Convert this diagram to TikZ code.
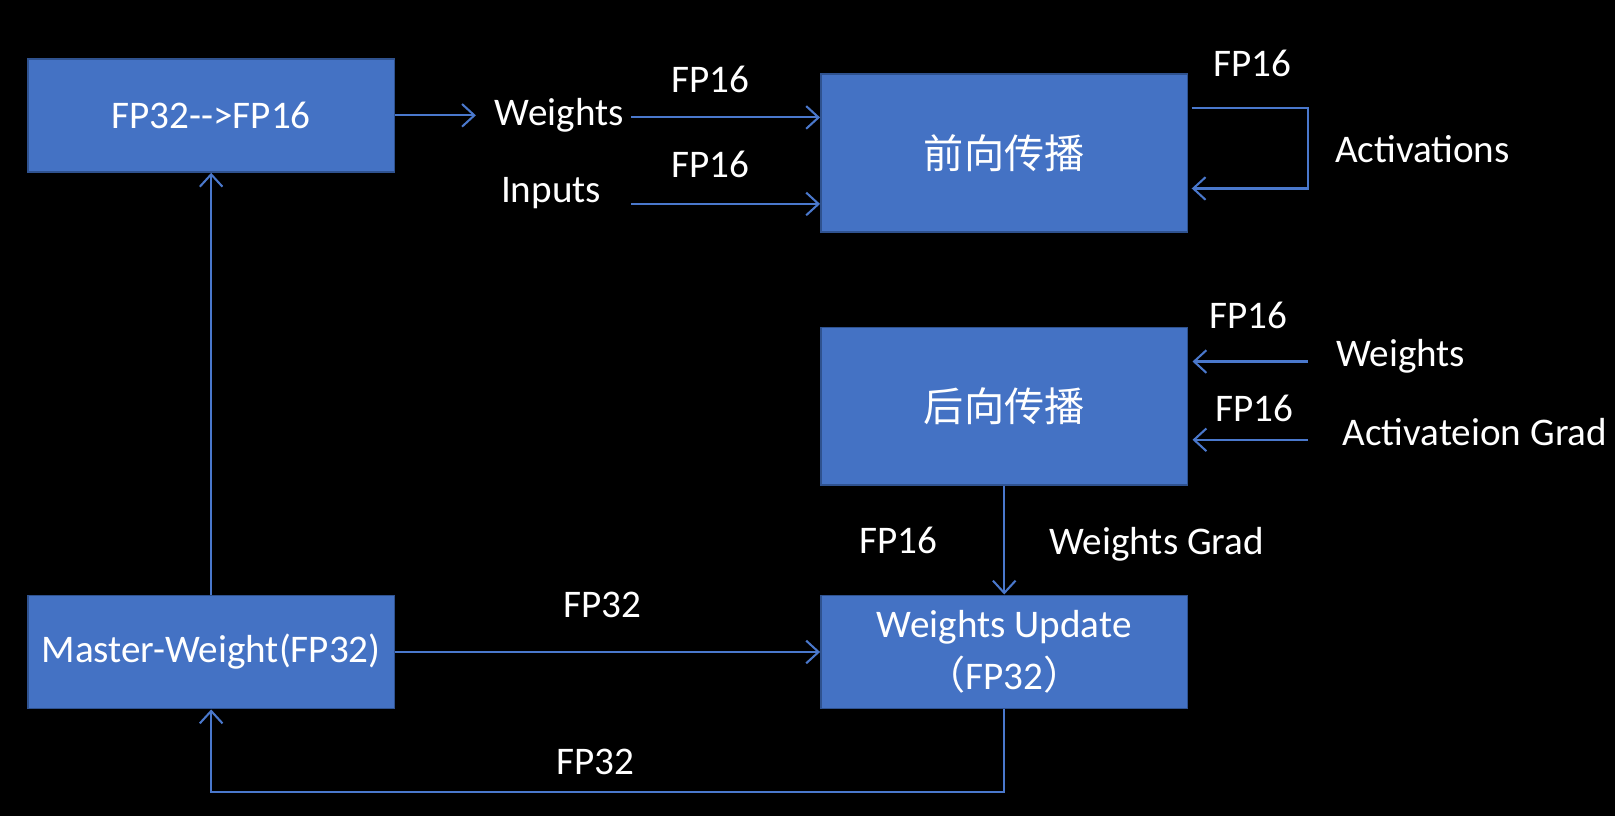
\documentclass[tikz,border=0pt]{standalone}
\usepackage{fontspec}
\setmainfont{Carlito}
\newfontfamily\cjk{Noto Sans CJK SC}
\usetikzlibrary{arrows.meta,calc}
\definecolor{boxfill}{HTML}{4472C4}
\definecolor{boxline}{HTML}{2F528F}
\definecolor{arrowc}{HTML}{4A78CC}
\begin{document}
\begin{tikzpicture}[x=0.5pt,y=-0.5pt,
  box/.style={draw=boxline, line width=0.8pt, fill=boxfill, minimum width=178pt, text=white, inner sep=0pt, align=center, font=\fontsize{19}{25}\selectfont},
  cjkbox/.style={box, font=\cjk\fontsize{19.5}{25}\selectfont},
  lbl/.style={text=white, font=\fontsize{19}{23}\selectfont, inner sep=0pt},
  conn/.style={draw=arrowc, line width=1pt, -{Straight Barb[length=6pt,width=11pt]}},
  plain/.style={draw=arrowc, line width=1pt}
]
\fill[black] (0,0) rectangle (1568,792);
\useasboundingbox (0,0) rectangle (1568,792);

% boxes
\node[box, minimum height=55pt] (A) at (205,112) {FP32-{}->FP16};
\node[cjkbox, minimum height=76.5pt] (B) at (975,148.5) {前向传播};
\node[cjkbox, minimum height=76.5pt] (C) at (975,394.5) {后向传播};
\node[box, minimum height=55pt] (D) at (205,633) {Master-Weight(FP32)};
\node[box, minimum height=55pt] (E) at (975,633) {Weights Update\\{\cjk （}FP32{\cjk ）}};

% labels
\node[lbl] (wA) at (543,112) {Weights};
\node[lbl] (fp1) at (690,77) {FP16};
\node[lbl] (inp) at (535,187) {Inputs};
\node[lbl] (fp2) at (690,160) {FP16};
\node[lbl] (fp3) at (1216,62) {FP16};
\node[lbl] (act) at (1381,145) {Activations};
\node[lbl] (fp4) at (1212,306) {FP16};
\node[lbl] (wB) at (1360,346) {Weights};
\node[lbl] (fp5) at (1218,397) {FP16};
\node[lbl] (ag) at (1432,419) {Activateion Grad};
\node[lbl] (fp6) at (872,525) {FP16};
\node[lbl] (wg) at (1123,528) {Weights Grad};
\node[lbl] (fp7) at (585,587) {FP32};
\node[lbl] (fp8) at (578,740) {FP32};

% coordinates
\coordinate (wS) at (613,114);
\coordinate (inS) at (613,198);
\coordinate (a1) at (1157,105);
\coordinate (a2) at (1270,105);
\coordinate (a3) at (1270,183);
\coordinate (a4) at (1157,183);
\coordinate (bw) at (1270,351);
\coordinate (bg) at (1270,427);
\coordinate (lp) at (975,769);
\coordinate (lq) at (205,769);

% connectors
\draw[conn] (A.east) -- ($(wA.west)+(-18,0)$);
\draw[conn] (wS) -- (wS -| B.west);
\draw[conn] (inS) -- (inS -| B.west);
\draw[conn] (a1) -- (a2) -- (a3) -- (a4);
\draw[conn] (bw) -- ($(bw -| C.east)+(4,0)$);
\draw[conn] (bg) -- ($(bg -| C.east)+(4,0)$);
\draw[conn] (C.south) -- (E.north);
\draw[conn] (D.east) -- (D.east -| E.west);
\draw[conn] (E.south) -- (lp) -- (lq) -- (D.south);
\draw[conn] (D.north) -- (A.south);
\end{tikzpicture}
\end{document}
